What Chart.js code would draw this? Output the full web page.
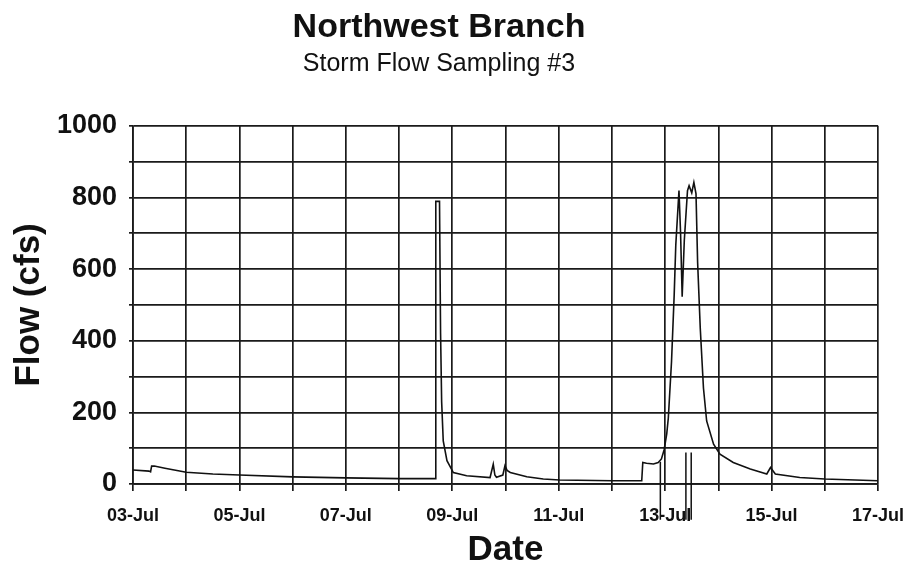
<!DOCTYPE html>
<html>
<head>
<meta charset="utf-8">
<script src="https://cdn.jsdelivr.net/npm/chart.js@4.4.1/dist/chart.umd.min.js"></script>
<style>
  html, body { margin: 0; padding: 0; background: #fff; }
  #wrap { width: 907px; height: 568px; }
</style>
</head>
<body>
<div id="wrap"><canvas id="flowChart" width="907" height="568"></canvas></div>
<script>
// day labels, one per grid line (days since 03-Jul 00:00)
const dayLabels = ['03-Jul', '04-Jul', '05-Jul', '06-Jul', '07-Jul', '08-Jul', '09-Jul', '10-Jul',
                   '11-Jul', '12-Jul', '13-Jul', '14-Jul', '15-Jul', '16-Jul', '17-Jul'];

// hydrograph
const flowDay = [0.00, 0.30, 0.33, 0.35, 0.40, 0.60, 1.00, 1.50, 2.00, 3.00, 4.00, 5.00, 5.68,
                 5.69, 5.76, 5.78, 5.80, 5.83, 5.90, 6.02, 6.27, 6.71, 6.77, 6.80, 6.83, 6.95, 6.99,
                 7.03, 7.09, 7.40, 7.71, 8.02, 9.02, 9.56, 9.58, 9.65, 9.78, 9.87, 9.93, 9.98, 10.03,
                 10.06, 10.12, 10.17, 10.20, 10.26, 10.29, 10.32, 10.36, 10.42, 10.45, 10.50, 10.54,
                 10.58, 10.61, 10.66, 10.72, 10.78, 10.91, 11.03, 11.28, 11.60, 11.91, 11.98, 12.07,
                 12.53, 13.00, 14.00];
const flowCfs = [39, 36, 34, 50, 50, 44, 33, 28, 25, 20, 17, 15, 15,
                 789, 789, 420, 230, 120, 65, 32, 23, 18, 55, 25, 19, 25, 51,
                 38, 32, 20, 14, 11, 9, 9, 60, 58, 56, 60, 70, 95, 140,
                 185, 342, 528, 667, 819, 700, 523, 680, 819, 833, 813, 842,
                 810, 620, 435, 268, 176, 111, 83, 60, 42, 28, 46, 28,
                 18, 14, 9];

// sampling marks (vertical bars round 13-Jul)
const sampleDay = [9.91, 10.39, 10.49];
const sampleTop = [62, 88, 88];
const sampleBottom = -100;

const lineColor = '#1a1a1a';
const fontFamily = '"Liberation Sans", Arial, sans-serif';

const flowPoints = flowDay.map((d, i) => ({ x: d, y: flowCfs[i] }));
const samplePoints = [];
sampleDay.forEach((d, i) => {
    samplePoints.push({ x: d, y: sampleTop[i] }, { x: d, y: sampleBottom }, { x: d, y: null });
});

new Chart(document.getElementById('flowChart').getContext('2d'), {
    type: 'line',
    data: {
        datasets: [{
            label: 'Flow',
            data: flowPoints,
            borderColor: '#111',
            borderWidth: 1.6,
            pointRadius: 0,
            tension: 0
        }, {
            label: 'Samples',
            data: samplePoints,
            borderColor: '#111',
            borderWidth: 1.5,
            pointRadius: 0,
            spanGaps: false,
            clip: false
        }]
    },
    options: {
        responsive: false,
        animation: false,
        layout: { padding: { left: 0, right: 29, top: 0, bottom: 0 } },
        plugins: {
            legend: { display: false },
            tooltip: { enabled: false },
            title: {
                display: true,
                text: 'Northwest Branch',
                color: '#111',
                font: { family: fontFamily, size: 34, weight: 'bold' },
                padding: { top: 7, bottom: 0 }
            },
            subtitle: {
                display: true,
                text: 'Storm Flow Sampling #3',
                color: '#111',
                font: { family: fontFamily, size: 25 },
                padding: { top: 1, bottom: 47 }
            }
        },
        scales: {
            x: {
                type: 'linear',
                min: 0, max: 14,
                afterFit: s => { s.height = 84; s.paddingLeft = 0; s.paddingRight = 0; },
                ticks: {
                    stepSize: 1,
                    autoSkip: false,
                    maxRotation: 0,
                    padding: 14,
                    color: '#111',
                    font: { family: fontFamily, size: 18, weight: 'bold' },
                    callback: v => (v % 2 === 0 ? dayLabels[v] : '')
                },
                grid: { color: lineColor, lineWidth: 1.7, tickLength: 7 },
                border: { color: lineColor, width: 1.7 },
                title: {
                    display: true,
                    text: 'Date',
                    color: '#111',
                    font: { family: fontFamily, size: 35, weight: 'bold' },
                    padding: { top: 0, bottom: -3 }
                }
            },
            y: {
                min: 0, max: 1000,
                afterFit: s => { s.width = 133; s.paddingTop = 0; s.paddingBottom = 0; },
                ticks: {
                    stepSize: 100,
                    padding: 12,
                    color: '#111',
                    font: { family: fontFamily, size: 27, weight: 'bold' },
                    callback: v => (v % 200 === 0 ? v : '')
                },
                grid: { color: lineColor, lineWidth: 1.7, tickLength: 4 },
                border: { color: lineColor, width: 1.7 },
                title: {
                    display: true,
                    text: 'Flow (cfs)',
                    color: '#111',
                    font: { family: fontFamily, size: 35, weight: 'bold' },
                    padding: { top: 8, bottom: 0 }
                }
            }
        }
    }
});
</script>
</body>
</html>
